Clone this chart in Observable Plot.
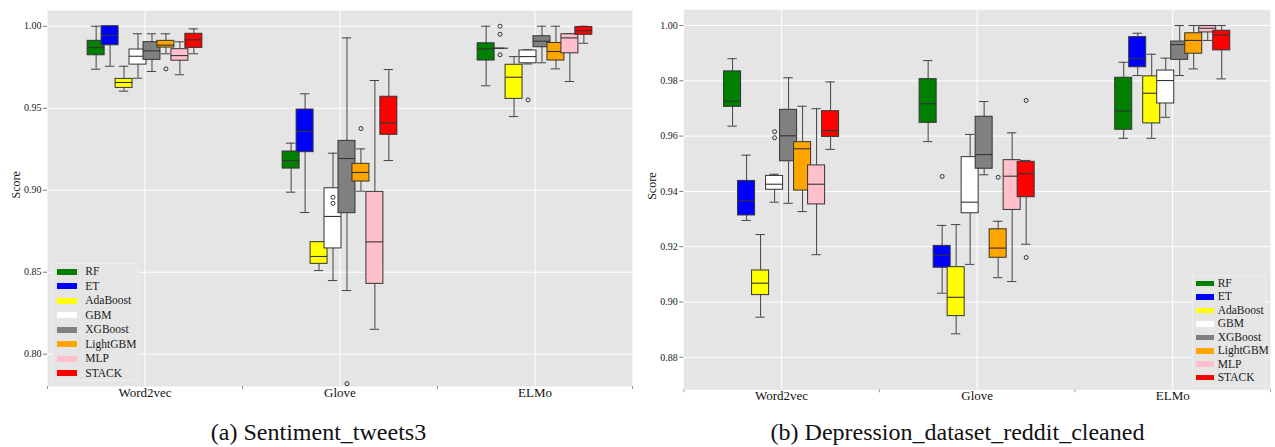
<!DOCTYPE html>
<html>
<head>
<meta charset="utf-8">
<script src="https://cdn.jsdelivr.net/npm/d3@7"></script>
<script src="https://cdn.jsdelivr.net/npm/@observablehq/plot@0.6"></script>
<style>
  html, body { margin: 0; padding: 0; background: #fff; }
  #root { position: relative; width: 1275px; height: 447px; overflow: hidden; font-family: "Liberation Serif", "DejaVu Serif", serif; }
  .panel { position: absolute; top: 0; }
  .caption { position: absolute; top: 420px; height: 24px; line-height: 24px; font-size: 24px; font-family: "Liberation Serif", "DejaVu Serif", serif; text-align: center; color: #111; white-space: nowrap; }
  .legend { position: absolute; background: #e5e5e5; border: 1px solid #efefef; box-sizing: border-box; }
  .legend .sw { position: absolute; }
  .legend .lb { position: absolute; font-family: "Liberation Serif", serif; font-size: 11.5px; line-height: 11px; color: #1a1a1a; white-space: nowrap; }
</style>
</head>
<body>
<div id="root"></div>
<script>
// ---------- data ----------
const models = ["RF", "ET", "AdaBoost", "GBM", "XGBoost", "LightGBM", "MLP", "STACK"];
const modelColors = ["#007f00", "#0000ff", "#ffff00", "#ffffff", "#808080", "#ffa500", "#ffc0cb", "#ff0000"];
const embeddings = ["Word2vec", "Glove", "ELMo"];

// Panel (a) Sentiment_tweets3 — rows: models, columns: Word2vec, Glove, ELMo
const tweetsLow = [
  [0.9738, 0.8988, 0.9637], [0.9756, 0.8864, 0.9866], [0.9604, 0.8510, 0.9449], [0.9683, 0.8449, 0.9770],
  [0.9724, 0.8388, 0.9777], [0.9832, 0.8994, 0.9740], [0.9704, 0.8152, 0.9663], [0.9832, 0.9181, 0.9896]
];
const tweetsQ1 = [
  [0.9823, 0.9132, 0.9791], [0.9884, 0.9232, 0.9866], [0.9624, 0.8551, 0.9557], [0.9766, 0.8645, 0.9774],
  [0.9795, 0.8860, 0.9872], [0.9870, 0.9053, 0.9791], [0.9790, 0.8429, 0.9835], [0.9868, 0.9338, 0.9948]
];
const tweetsMedian = [
  [0.9870, 0.9181, 0.9862], [0.9943, 0.9358, 0.9866], [0.9657, 0.8596, 0.9689], [0.9817, 0.8840, 0.9815],
  [0.9850, 0.9193, 0.9909], [0.9885, 0.9108, 0.9846], [0.9821, 0.8685, 0.9929], [0.9917, 0.9411, 0.9974]
];
const tweetsQ3 = [
  [0.9911, 0.9236, 0.9896], [1.0000, 0.9492, 0.9866], [0.9679, 0.8683, 0.9765], [0.9858, 0.9012, 0.9852],
  [0.9903, 0.9301, 0.9939], [0.9911, 0.9161, 0.9898], [0.9860, 0.8990, 0.9951], [0.9954, 0.9570, 0.9995]
];
const tweetsHigh = [
  [1.0000, 0.9287, 1.0000], [1.0000, 0.9588, 0.9866], [0.9756, 0.8683, 0.9815], [0.9954, 0.9226, 0.9856],
  [0.9954, 0.9929, 1.0000], [0.9954, 0.9252, 1.0000], [0.9905, 0.9669, 0.9954], [0.9984, 0.9736, 1.0000]
];
const tweetsOutliers = [
  ["LightGBM", "Word2vec", 0.974],
  ["GBM", "Glove", 0.8957], ["GBM", "Glove", 0.8920], ["LightGBM", "Glove", 0.9376], ["XGBoost", "Glove", 0.782],
  ["ET", "ELMo", 1.000], ["ET", "ELMo", 0.9951], ["ET", "ELMo", 0.9826], ["GBM", "ELMo", 0.9551]
];
const tweetsTicks = [0.80, 0.85, 0.90, 0.95, 1.00];

// Panel (b) Depression_dataset_reddit_cleaned
const redditLow = [
  [0.9636, 0.9580, 0.9592], [0.9295, 0.9032, 0.9819], [0.8945, 0.8885, 0.9592], [0.9361, 0.9136, 0.9668],
  [0.9357, 0.9460, 0.9819], [0.9327, 0.9088, 0.9843], [0.9171, 0.9074, 0.9946], [0.9552, 0.9209, 0.9807]
];
const redditQ1 = [
  [0.9706, 0.9648, 0.9623], [0.9313, 0.9124, 0.9849], [0.9025, 0.8949, 0.9646], [0.9406, 0.9321, 0.9718],
  [0.9509, 0.9482, 0.9876], [0.9403, 0.9160, 0.9898], [0.9353, 0.9333, 0.9975], [0.9597, 0.9379, 0.9910]
];
const redditMedian = [
  [0.9726, 0.9717, 0.9691], [0.9366, 0.9169, 0.9880], [0.9068, 0.9017, 0.9755], [0.9426, 0.9361, 0.9801],
  [0.9601, 0.9533, 0.9931], [0.9554, 0.9195, 0.9946], [0.9426, 0.9455, 0.9990], [0.9620, 0.9464, 0.9966]
];
const redditQ3 = [
  [0.9834, 0.9806, 0.9811], [0.9438, 0.9203, 0.9958], [0.9114, 0.9126, 0.9816], [0.9456, 0.9524, 0.9837],
  [0.9695, 0.9670, 0.9942], [0.9578, 0.9263, 0.9972], [0.9494, 0.9513, 0.9998], [0.9690, 0.9507, 0.9981]
];
const redditHigh = [
  [0.9880, 0.9873, 0.9867], [0.9531, 0.9277, 0.9972], [0.9244, 0.9280, 0.9896], [0.9462, 0.9606, 0.9882],
  [0.9811, 0.9725, 1.0000], [0.9708, 0.9292, 1.0000], [0.9699, 0.9612, 1.0000], [0.9796, 0.9512, 1.0000]
];
const redditOutliers = [
  ["GBM", "Word2vec", 0.9616], ["GBM", "Word2vec", 0.9594],
  ["ET", "Glove", 0.9454], ["LightGBM", "Glove", 0.9451], ["STACK", "Glove", 0.9729], ["STACK", "Glove", 0.9161]
];
const redditTicks = [0.88, 0.90, 0.92, 0.94, 0.96, 0.98, 1.00];

// ---------- layout constants ----------
const STEP = 0.0716;   // dodge between models (in category units)
const HALF = 0.0435;   // half box width
const CAP = 0.024;     // half whisker-cap width
const BG = "#e5e5e5";
const EDGE = "#333333";

const modelX = (mi, ei) => ei + 0.5 + (mi - 3.5) * STEP;

function buildRows(low, q1, med, q3, high) {
  const rows = [];
  models.forEach((m, mi) => embeddings.forEach((e, ei) => rows.push({
    model: m, mi, ei, x: modelX(mi, ei),
    low: low[mi][ei], q1: q1[mi][ei], med: med[mi][ei], q3: q3[mi][ei], high: high[mi][ei]
  })));
  return rows;
}

function makePanel(cfg) {
  const rows = buildRows(cfg.low, cfg.q1, cfg.med, cfg.q3, cfg.high);
  const outl = cfg.outliers.map(([m, e, v]) => ({ x: modelX(models.indexOf(m), embeddings.indexOf(e)), v }));
  const marks = [
    Plot.frame({ fill: BG, stroke: "none" }),
    Plot.gridY(cfg.ticks, { stroke: "#ffffff", strokeOpacity: 1, strokeWidth: 1 }),
    Plot.gridX([0.5, 1.5, 2.5], { stroke: "#ffffff", strokeOpacity: 1, strokeWidth: 1 }),
    Plot.axisY(cfg.ticks, { tickFormat: d3.format(".2f"), tickSize: 4, tickPadding: 2, fontSize: 10, stroke: "#777", color: "#222", label: null }),
    Plot.axisX([0, 1, 2, 3], { tickFormat: () => "", tickSize: 3, stroke: "#999", label: null }),
    Plot.axisX([0.5, 1.5, 2.5], { tickFormat: v => embeddings[Math.floor(v)], tickSize: 0, tickPadding: 1, fontSize: 13, color: "#111", label: null })
  ];
  models.forEach((m, mi) => {
    const sub = rows.filter(r => r.mi === mi);
    marks.push(
      Plot.ruleX(sub, { x: "x", y1: "q3", y2: "high", stroke: "#444", strokeWidth: 1 }),
      Plot.ruleX(sub, { x: "x", y1: "low", y2: "q1", stroke: "#444", strokeWidth: 1 }),
      Plot.ruleY(sub, { y: "high", x1: d => d.x - CAP, x2: d => d.x + CAP, stroke: "#444", strokeWidth: 1 }),
      Plot.ruleY(sub, { y: "low", x1: d => d.x - CAP, x2: d => d.x + CAP, stroke: "#444", strokeWidth: 1 }),
      Plot.rect(sub, { x1: d => d.x - HALF, x2: d => d.x + HALF, y1: "q1", y2: "q3", fill: modelColors[mi], stroke: EDGE, strokeWidth: 1 }),
      Plot.ruleY(sub, { y: "med", x1: d => d.x - HALF, x2: d => d.x + HALF, stroke: EDGE, strokeWidth: 1.1 })
    );
  });
  marks.push(
    Plot.dot(outl, { x: "x", y: "v", r: 2, stroke: EDGE, strokeWidth: 1, fill: "none" }),
    Plot.text(["Score"], { text: d => d, frameAnchor: "left", rotate: -90, dx: cfg.labelDx, fontSize: 12, fill: "#111" })
  );
  return Plot.plot({
    width: cfg.width, height: 405,
    marginLeft: cfg.ml, marginRight: cfg.mr, marginTop: cfg.mt, marginBottom: cfg.mb,
    x: { domain: [0, 3], axis: null },
    y: { domain: cfg.domain, axis: null },
    style: { fontFamily: "Liberation Serif, serif", background: "transparent", overflow: "visible" },
    marks
  });
}

function makeLegend(box) {
  const lg = document.createElement("div");
  lg.className = "legend";
  Object.assign(lg.style, { left: box.left + "px", top: box.top + "px", width: box.w + "px", height: box.h + "px" });
  models.forEach((m, i) => {
    const cy = box.firstRow - box.top + i * box.pitch;
    const sw = document.createElement("div");
    sw.className = "sw";
    Object.assign(sw.style, { left: box.swx + "px", top: (cy - box.swh / 2) + "px", width: box.sww + "px", height: box.swh + "px", background: modelColors[i] });
    const lb = document.createElement("div");
    lb.className = "lb";
    lb.textContent = m;
    Object.assign(lb.style, { left: box.lbx + "px", top: (cy - 5.5) + "px" });
    lg.append(sw, lb);
  });
  return lg;
}

const root = document.getElementById("root");

const pa = document.createElement("div");
pa.className = "panel"; pa.style.left = "0px";
pa.append(makePanel({
  low: tweetsLow, q1: tweetsQ1, med: tweetsMedian, q3: tweetsQ3, high: tweetsHigh, outliers: tweetsOutliers,
  ticks: tweetsTicks, domain: [0.7803, 1.0096], width: 637, ml: 47, mr: 5, mt: 10, mb: 19, labelDx: -31.5
}));
root.append(pa);

const pb = document.createElement("div");
pb.className = "panel"; pb.style.left = "640px";
pb.append(makePanel({
  low: redditLow, q1: redditQ1, med: redditMedian, q3: redditQ3, high: redditHigh, outliers: redditOutliers,
  ticks: redditTicks, domain: [0.86825, 1.00568], width: 635, ml: 43.3, mr: 5, mt: 9.3, mb: 15.7, labelDx: -31.3
}));
root.append(pb);

root.append(makeLegend({ left: 51.7, top: 262.7, w: 86, h: 118, firstRow: 271, pitch: 14.47, swx: 4, sww: 20.3, swh: 6, lbx: 32.6 }));
root.append(makeLegend({ left: 1192.3, top: 275, w: 74, h: 110.7, firstRow: 282.3, pitch: 13.49, swx: 2.7, sww: 18.3, swh: 5.5, lbx: 24.4 }));

const ca = document.createElement("div");
ca.className = "caption"; ca.style.left = "0px"; ca.style.width = "637px";
ca.textContent = "(a) Sentiment_tweets3";
const cb = document.createElement("div");
cb.className = "caption"; cb.style.left = "640px"; cb.style.width = "635px";
cb.textContent = "(b) Depression_dataset_reddit_cleaned";
root.append(ca, cb);
</script>
</body>
</html>
